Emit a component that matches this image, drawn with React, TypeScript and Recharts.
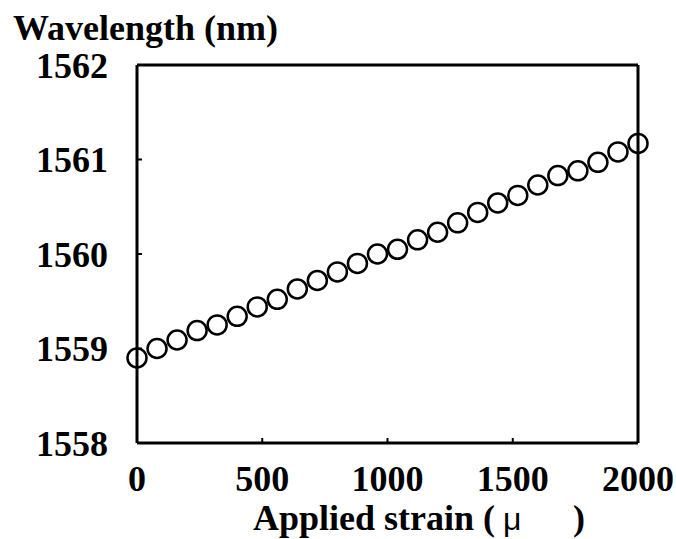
import { ScatterChart, Scatter, XAxis, YAxis, Label } from 'recharts';

// applied strain (µε) at each reading
const strain = [
  0, 80, 160, 240, 320, 400, 480, 560, 640, 720, 800, 880, 960,
  1040, 1120, 1200, 1280, 1360, 1440, 1520, 1600, 1680, 1760, 1840, 1920, 2000,
];

// measured Bragg wavelength (nm)
const wavelength = [
  1558.9, 1559.0, 1559.09, 1559.19, 1559.25, 1559.34, 1559.44, 1559.52, 1559.63,
  1559.72, 1559.81, 1559.9, 1560.0, 1560.05, 1560.15, 1560.23, 1560.33, 1560.44,
  1560.54, 1560.62, 1560.73, 1560.83, 1560.88, 1560.97, 1561.08, 1561.17,
];

const xTicks = [0, 500, 1000, 1500, 2000];
const yTicks = [1558, 1559, 1560, 1561, 1562];

const data = strain.map((s, i) => ({ strain: s, wavelength: wavelength[i] }));

const serif = 'Liberation Serif, Times New Roman, serif';
const tickStyle = { fill: '#000', fontFamily: serif, fontWeight: 700, fontSize: 36 };
const frame = { stroke: '#000', strokeWidth: 3 };
const tickMark = { stroke: '#000', strokeWidth: 2 };

const Ring = (props: any) => (
  <circle cx={props.cx} cy={props.cy} r={9.5} fill="none" stroke="#000" strokeWidth={2.5} />
);

const XTitle = ({ viewBox }: any) => {
  const { x, y } = viewBox;
  return (
    <text x={x + 116} y={y + 87} fill="#000" fontFamily={serif} fontWeight={700} fontSize={36}>
      Applied strain (
      <tspan x={x + 366} fontFamily="Liberation Sans, Arial, sans-serif" fontWeight={400} fontSize={32}>
        μ
      </tspan>
      <tspan x={x + 436}>)</tspan>
    </text>
  );
};

const YTitle = ({ viewBox }: any) => (
  <text x={viewBox.x + 13} y={viewBox.y - 25} fill="#000" fontFamily={serif} fontWeight={700} fontSize={36}>
    Wavelength (nm)
  </text>
);

export default function App() {
  return (
    <>
      {/* chart fills the whole page */}
      <style>{'body { margin: 0; }'}</style>
      <ScatterChart
        width={676}
        height={539}
        margin={{ top: 64, right: 37, bottom: 0, left: 0 }}
      >
        <XAxis
          xAxisId="bottom"
          type="number"
          dataKey="strain"
          domain={[0, 2000]}
          ticks={xTicks}
          height={96}
          axisLine={frame}
          tickLine={tickMark}
          tickSize={-5}
          tickMargin={27}
          tick={tickStyle}
        >
          <Label content={XTitle} />
        </XAxis>
        {/* top edge of the frame, ticks only */}
        <XAxis
          xAxisId="top"
          orientation="top"
          type="number"
          dataKey="strain"
          domain={[0, 2000]}
          ticks={xTicks}
          height={1}
          axisLine={frame}
          tickLine={tickMark}
          tickSize={-5}
          tick={false}
        />
        <YAxis
          yAxisId="left"
          type="number"
          dataKey="wavelength"
          domain={[1558, 1562]}
          ticks={yTicks}
          width={137}
          axisLine={frame}
          tickLine={tickMark}
          tickSize={-5}
          tickMargin={34}
          tick={tickStyle}
        >
          <Label content={YTitle} />
        </YAxis>
        {/* right edge of the frame, ticks only */}
        <YAxis
          yAxisId="right"
          orientation="right"
          type="number"
          dataKey="wavelength"
          domain={[1558, 1562]}
          ticks={yTicks}
          width={1}
          axisLine={frame}
          tickLine={tickMark}
          tickSize={-5}
          tick={false}
        />
        <Scatter
          data={data}
          xAxisId="bottom"
          yAxisId="left"
          shape={Ring}
          isAnimationActive={false}
        />
      </ScatterChart>
    </>
  );
}
